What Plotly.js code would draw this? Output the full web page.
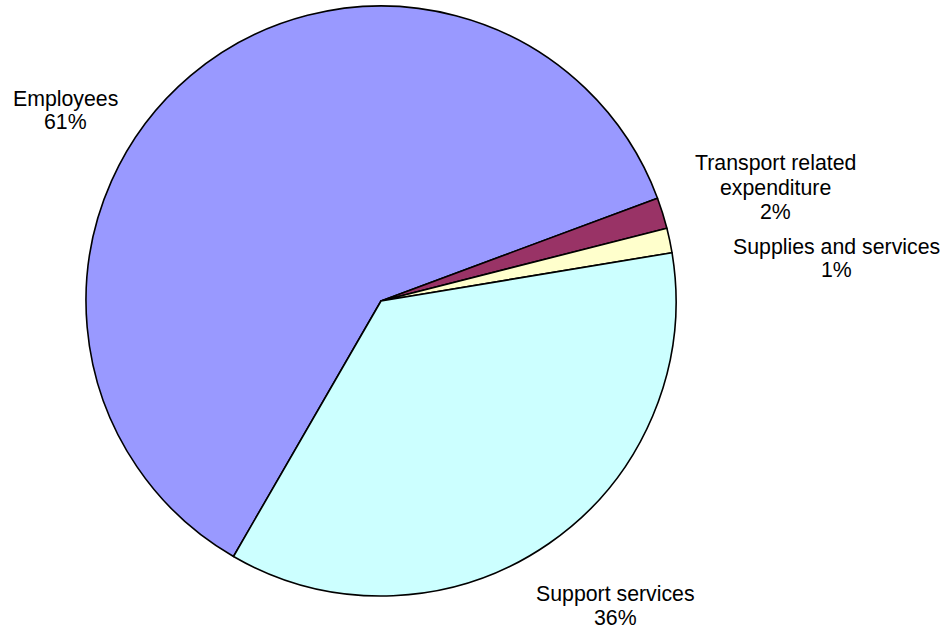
<!DOCTYPE html>
<html>
<head>
<meta charset="utf-8">
<script src="https://cdn.plot.ly/plotly-3.0.1.min.js"></script>
<style>html,body{margin:0;padding:0;background:#fff;}#chart{width:948px;height:631px;}</style>
</head>
<body>
<div id="chart"></div>
<script>
const categories = ["Employees", "Transport related expenditure", "Supplies and services", "Support services"];
const values = [61.0, 1.7, 1.35, 35.95];
const percentLabels = ["61%", "2%", "1%", "36%"];
const labelLines = [["Employees"], ["Transport related", "expenditure"], ["Supplies and services"], ["Support services"]];
const colors = ["#9999FF", "#993366", "#FFFFCC", "#CCFFFF"];

const W = 948, H = 631;
const cx = 381, cy = 301, r = 295;

const trace = {
  type: "pie",
  labels: categories,
  values: values,
  sort: false,
  direction: "clockwise",
  rotation: 210,
  textinfo: "none",
  hoverinfo: "label+percent",
  marker: { colors: colors, line: { color: "#000000", width: 1.6 } },
  domain: { x: [(cx - r) / W, (cx + r) / W], y: [1 - (cy + r) / H, 1 - (cy - r) / H] },
  showlegend: false
};

// label block: centre x, first-line centre y, line step
const labelPos = [[65, 99.5, 22.5], [775, 163.5, 24], [836, 246.5, 23], [615, 593.5, 24.5]];
const annotations = [];
categories.forEach((c, i) => {
  const lines = labelLines[i].concat([percentLabels[i]]);
  lines.forEach((t, j) => {
    annotations.push({
      xref: "paper", yref: "paper",
      x: labelPos[i][0] / W, y: 1 - (labelPos[i][1] + j * labelPos[i][2]) / H,
      xanchor: "center", yanchor: "middle",
      text: t, showarrow: false,
      font: { family: "Liberation Sans, Arial, sans-serif", size: 21.3, color: "#000" }
    });
  });
});

Plotly.newPlot("chart", [trace], {
  width: W, height: H,
  margin: { l: 0, r: 0, t: 0, b: 0 },
  paper_bgcolor: "#ffffff",
  annotations: annotations
}, { displayModeBar: false, staticPlot: true });
</script>
</body>
</html>
